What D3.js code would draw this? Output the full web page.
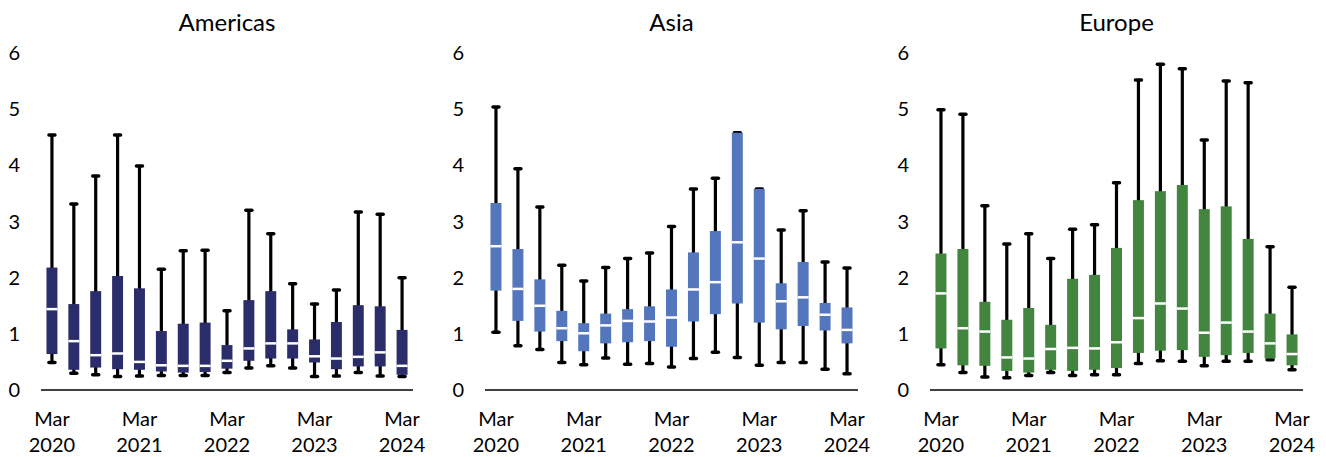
<!DOCTYPE html>
<html>
<head>
<meta charset="utf-8">
<script src="https://cdn.jsdelivr.net/npm/d3@7"></script>
<style>
  body { margin: 0; background: #fff; }
  text { font-family: Lato, "Noto Sans", sans-serif; fill: #000; }
</style>
</head>
<body>
<div id="chart"></div>
<script>
// Quarters (17)
const quarters = ["Mar 2020", "Jun 2020", "Sep 2020", "Dec 2020",
  "Mar 2021", "Jun 2021", "Sep 2021", "Dec 2021",
  "Mar 2022", "Jun 2022", "Sep 2022", "Dec 2022",
  "Mar 2023", "Jun 2023", "Sep 2023", "Dec 2023", "Mar 2024"];
const xTickLabels = ["Mar 2020", "Mar 2021", "Mar 2022", "Mar 2023", "Mar 2024"];
const yTicks = [0, 1, 2, 3, 4, 5, 6];

// Americas
const americasMax = [4.54, 3.31, 3.81, 4.54, 3.99, 2.15, 2.48, 2.49, 1.41, 3.20, 2.78, 1.89, 1.53, 1.78, 3.17, 3.13, 2.00];
const americasQ3  = [2.18, 1.53, 1.76, 2.03, 1.81, 1.05, 1.18, 1.20, 0.80, 1.60, 1.76, 1.08, 0.90, 1.21, 1.51, 1.49, 1.07];
const americasMed = [1.44, 0.87, 0.62, 0.65, 0.50, 0.44, 0.43, 0.43, 0.52, 0.74, 0.83, 0.83, 0.60, 0.56, 0.59, 0.67, 0.43];
const americasQ1  = [0.64, 0.36, 0.40, 0.37, 0.36, 0.33, 0.31, 0.32, 0.38, 0.52, 0.56, 0.56, 0.49, 0.37, 0.42, 0.42, 0.27];
const americasMin = [0.49, 0.30, 0.27, 0.24, 0.25, 0.26, 0.26, 0.26, 0.31, 0.39, 0.43, 0.39, 0.24, 0.25, 0.31, 0.25, 0.24];

// Asia
const asiaMax = [5.04, 3.94, 3.26, 2.22, 1.94, 2.18, 2.34, 2.44, 2.91, 3.58, 3.77, 4.58, 3.58, 2.85, 3.19, 2.28, 2.17];
const asiaQ3  = [3.33, 2.51, 1.97, 1.41, 1.19, 1.36, 1.44, 1.49, 1.79, 2.45, 2.83, 4.58, 3.58, 1.90, 2.28, 1.55, 1.47];
const asiaMed = [2.56, 1.80, 1.50, 1.10, 1.01, 1.15, 1.23, 1.22, 1.29, 1.79, 1.92, 2.63, 2.34, 1.58, 1.65, 1.34, 1.07];
const asiaQ1  = [1.77, 1.23, 1.04, 0.87, 0.69, 0.83, 0.85, 0.87, 0.77, 1.22, 1.35, 1.54, 1.20, 1.08, 1.14, 1.06, 0.83];
const asiaMin = [1.03, 0.79, 0.72, 0.49, 0.45, 0.57, 0.46, 0.47, 0.41, 0.56, 0.67, 0.58, 0.44, 0.49, 0.49, 0.37, 0.29];

// Europe
const europeMax = [4.99, 4.91, 3.28, 2.60, 2.78, 2.34, 2.86, 2.94, 3.69, 5.52, 5.80, 5.72, 4.45, 5.50, 5.47, 2.55, 1.83];
const europeQ3  = [2.43, 2.51, 1.57, 1.25, 1.46, 1.16, 1.98, 2.05, 2.53, 3.38, 3.54, 3.65, 3.22, 3.27, 2.69, 1.36, 0.99];
const europeMed = [1.72, 1.10, 1.04, 0.58, 0.56, 0.73, 0.75, 0.74, 0.85, 1.28, 1.54, 1.45, 1.02, 1.20, 1.04, 0.83, 0.64];
const europeQ1  = [0.74, 0.44, 0.43, 0.34, 0.31, 0.36, 0.34, 0.36, 0.39, 0.66, 0.70, 0.71, 0.59, 0.62, 0.66, 0.56, 0.44];
const europeMin = [0.45, 0.31, 0.23, 0.22, 0.26, 0.31, 0.26, 0.27, 0.27, 0.47, 0.52, 0.51, 0.43, 0.51, 0.51, 0.54, 0.36];

const panels = [
  { title: "Americas", color: "#2a2d6a", x0: 41,  x1: 413,  max: americasMax, q3: americasQ3, med: americasMed, q1: americasQ1, min: americasMin },
  { title: "Asia",     color: "#5476bd", x0: 485, x1: 858,  max: asiaMax, q3: asiaQ3, med: asiaMed, q1: asiaQ1, min: asiaMin },
  { title: "Europe",   color: "#42853f", x0: 930, x1: 1303, max: europeMax, q3: europeQ3, med: europeMed, q1: europeQ1, min: europeMin }
];

const width = 1326;
const height = 457;

const svg = d3.select("#chart")
  .append("svg")
  .attr("width", width)
  .attr("height", height);

// y scale shared
const y = d3.scaleLinear().domain([0, 6]).range([390, 53]);

panels.forEach(p => {
  const x = d3.scaleBand()
    .domain(quarters)
    .range([p.x0, p.x1])
    .paddingInner(0)
    .paddingOuter(0);
  const bw = x.bandwidth() * 0.5;
  const cx = q => x(q) + x.bandwidth() / 2;

  const g = svg.append("g");

  const rows = quarters.map((q, i) => ({
    q: q, max: p.max[i], q3: p.q3[i], med: p.med[i], q1: p.q1[i], min: p.min[i]
  }));

  // title
  g.append("text")
    .attr("x", (p.x0 + p.x1) / 2)
    .attr("y", 23)
    .attr("dy", "0.35em")
    .attr("text-anchor", "middle")
    .style("font-size", "24px")
    .text(p.title);

  // y labels
  g.selectAll("text.ytick")
    .data(yTicks)
    .enter()
    .append("text")
    .attr("class", "ytick")
    .attr("x", p.x0 - 21)
    .attr("y", d => y(d))
    .attr("dy", "0.35em")
    .attr("text-anchor", "end")
    .style("font-size", "20px")
    .text(d => d);

  // whiskers
  g.selectAll("line.whisker")
    .data(rows)
    .enter()
    .append("line")
    .attr("class", "whisker")
    .attr("x1", d => cx(d.q))
    .attr("x2", d => cx(d.q))
    .attr("y1", d => y(d.min))
    .attr("y2", d => y(d.max))
    .attr("stroke", "#000")
    .attr("stroke-width", 3.2);

  // caps
  ["min", "max"].forEach(k => {
    g.selectAll("line.cap-" + k)
      .data(rows)
      .enter()
      .append("line")
      .attr("class", "cap-" + k)
      .attr("x1", d => cx(d.q) - 3)
      .attr("x2", d => cx(d.q) + 3)
      .attr("y1", d => y(d[k]))
      .attr("y2", d => y(d[k]))
      .attr("stroke", "#000")
      .attr("stroke-width", 3.5)
      .attr("stroke-linecap", "round");
  });

  // boxes
  g.selectAll("rect.box")
    .data(rows)
    .enter()
    .append("rect")
    .attr("class", "box")
    .attr("x", d => cx(d.q) - bw / 2)
    .attr("width", bw)
    .attr("y", d => y(d.q3))
    .attr("height", d => y(d.q1) - y(d.q3))
    .attr("fill", p.color);

  // medians
  g.selectAll("line.median")
    .data(rows)
    .enter()
    .append("line")
    .attr("class", "median")
    .attr("x1", d => cx(d.q) - bw / 2)
    .attr("x2", d => cx(d.q) + bw / 2)
    .attr("y1", d => y(d.med))
    .attr("y2", d => y(d.med))
    .attr("stroke", "#fff")
    .attr("stroke-width", 2.5);

  // baseline
  g.append("line")
    .attr("x1", p.x0)
    .attr("x2", p.x1)
    .attr("y1", y(0))
    .attr("y2", y(0))
    .attr("stroke", "#000")
    .attr("stroke-width", 1.5);

  // x labels, two lines
  const xl = g.selectAll("text.xtick")
    .data(xTickLabels)
    .enter()
    .append("text")
    .attr("class", "xtick")
    .attr("text-anchor", "middle")
    .style("font-size", "20px");
  xl.append("tspan")
    .attr("x", d => cx(d))
    .attr("y", 419)
    .attr("dy", "0.35em")
    .text(d => d.split(" ")[0]);
  xl.append("tspan")
    .attr("x", d => cx(d))
    .attr("y", 445)
    .attr("dy", "0.35em")
    .text(d => d.split(" ")[1]);
});
</script>
</body>
</html>
